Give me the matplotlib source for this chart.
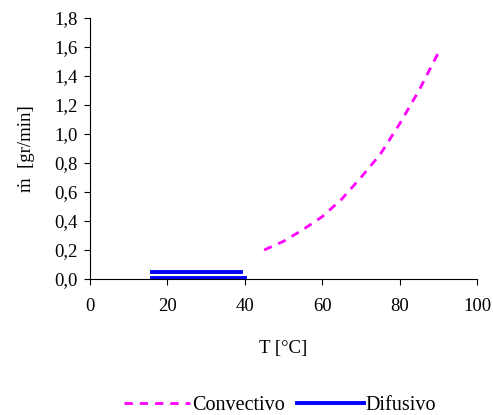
import matplotlib.pyplot as plt
from matplotlib.ticker import FuncFormatter

plt.rcParams['font.family'] = ['Liberation Serif', 'DejaVu Serif']

# Convectivo
t_conv = [45, 50, 55, 60, 65, 70, 75, 80, 85, 90]
m_conv = [0.20, 0.26, 0.34, 0.43, 0.55, 0.70, 0.86, 1.07, 1.30, 1.56]

# Difusivo (dos tramos)
t_dif1 = [16, 39]
m_dif1 = [0.05, 0.05]
t_dif2 = [16, 40]
m_dif2 = [0.005, 0.005]

fig = plt.figure(figsize=(4.93, 4.15), dpi=100)
ax = fig.add_axes([0.1826, 0.3277, 0.785, 0.629])

ax.plot(t_conv, m_conv, color='#ff00ff', lw=2, ls=(0, (3, 2.5)), label='Convectivo')
ax.plot(t_dif1, m_dif1, color='#0000ff', lw=2.8, label='Difusivo')
ax.plot(t_dif2, m_dif2, color='#0000ff', lw=2.8)

ax.set_xlim(0, 100)
ax.set_ylim(0, 1.8)
ax.set_xticks(range(0, 101, 20))
ax.set_yticks([i * 0.2 for i in range(10)])
ax.yaxis.set_major_formatter(FuncFormatter(lambda v, p: f'{v:.1f}'.replace('.', ',')))

ax.spines['top'].set_visible(False)
ax.spines['right'].set_visible(False)
ax.tick_params(direction='out', length=4, labelsize=13.5, colors='black')
ax.tick_params(axis='x', pad=10)
ax.tick_params(axis='y', pad=5)

ax.set_xlabel('T [°C]', fontsize=13.5, labelpad=18)
ax.set_ylabel('ṁ  [gr/min]', fontsize=13.5, labelpad=14)

fig.legend(loc='center', bbox_to_anchor=(0.568, 0.022), ncol=2, frameon=False,
           fontsize=14.5, handlelength=3.3, handletextpad=0.1, columnspacing=0.6,
           borderpad=0)

fig.savefig('out.png', dpi=100)
